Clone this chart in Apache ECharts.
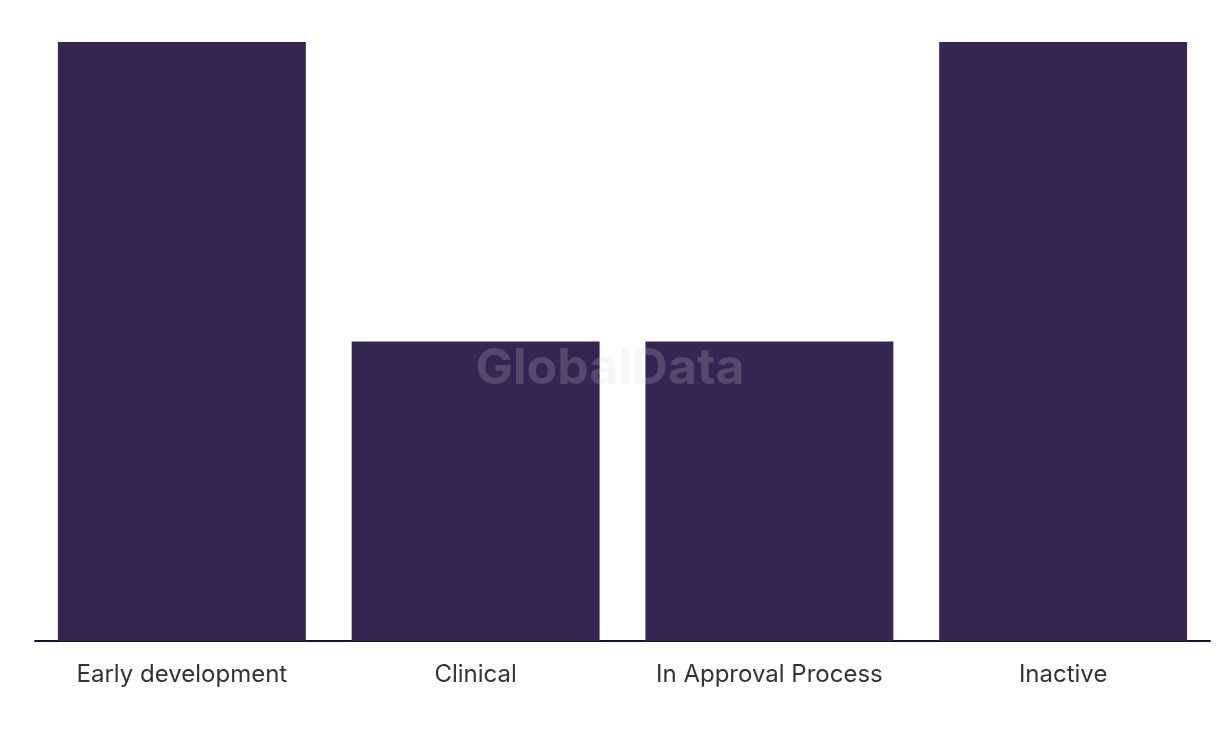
<!DOCTYPE html>
<html>
<head>
<meta charset="utf-8">
<script src="https://cdn.jsdelivr.net/npm/echarts@6/dist/echarts.min.js"></script>
<style>html,body{margin:0;padding:0;background:#fff}#c{width:1220px;height:736px}</style>
</head>
<body>
<div id="c"></div>
<script>
const categories = ["Early development", "Clinical", "In Approval Process", "Inactive"];
const values = [2, 1, 1, 2];

const chart = echarts.init(document.getElementById('c'), null, {renderer: 'canvas'});
chart.setOption({
  animation: false,
  backgroundColor: '#ffffff',
  grid: {left: 35, right: 10, top: 42, bottom: 95, containLabel: false},
  xAxis: {
    type: 'category',
    data: categories,
    axisTick: {show: false},
    axisLine: {show: true, lineStyle: {color: '#14142b', width: 2}},
    axisLabel: {color: '#333333', fontSize: 24, fontFamily: 'Inter', margin: 22, interval: 0, hideOverlap: false}
  },
  yAxis: {
    type: 'value',
    min: 0,
    max: 2,
    show: false,
    splitLine: {show: false}
  },
  series: [{
    type: 'bar',
    data: values,
    barCategoryGap: '15.6%',
    itemStyle: {color: '#362452'},
    z: 2
  }],
  graphic: [{
    type: 'text',
    left: 'center',
    top: 344,
    z: 100,
    style: {
      text: 'GlobalData',
      fontSize: 50,
      fontWeight: 'bold',
      fontFamily: 'Inter',
      fill: 'rgba(216,216,216,0.2)'
    }
  }]
});
</script>
</body>
</html>
